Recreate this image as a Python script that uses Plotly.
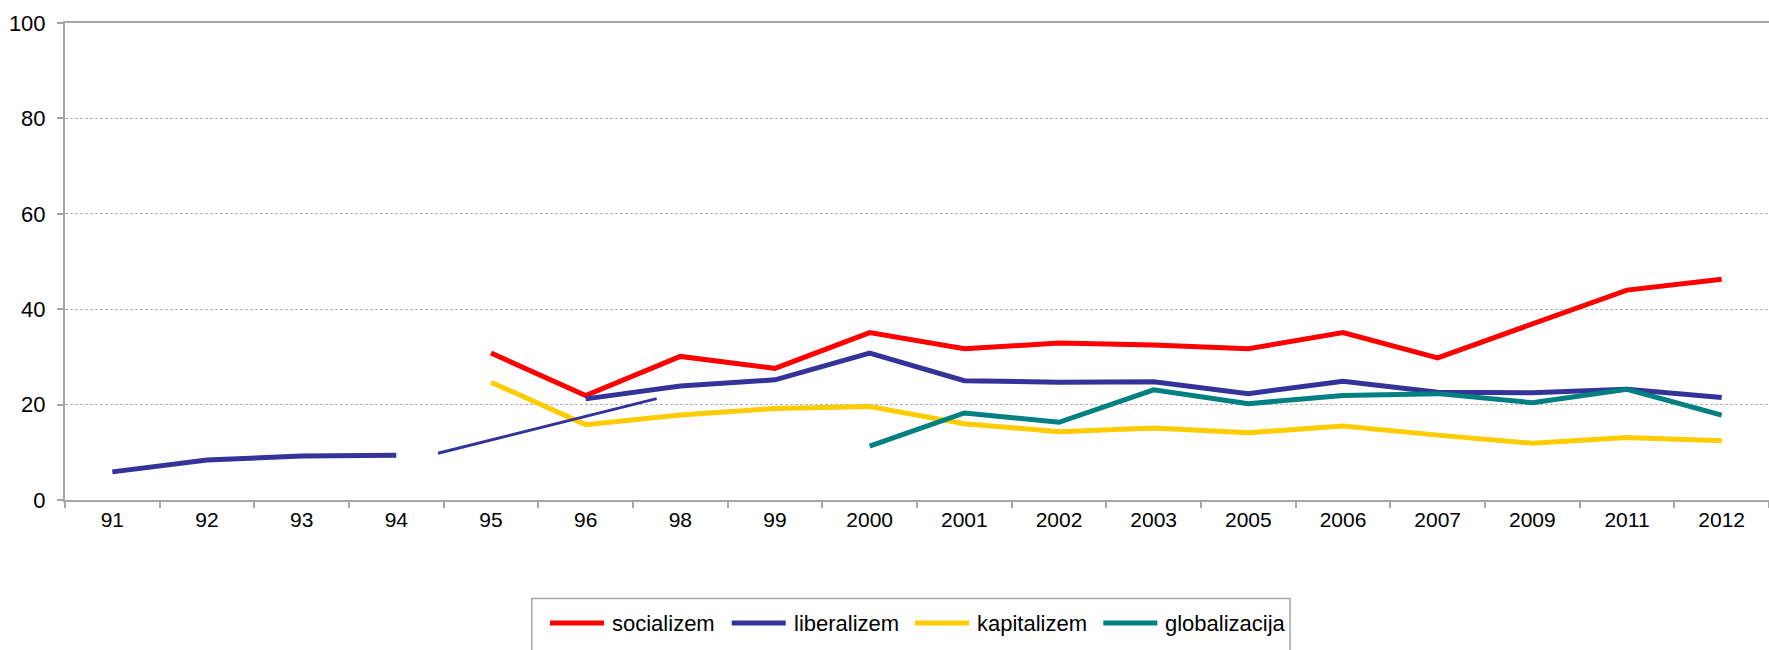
import plotly.graph_objects as go

# Survey years (category axis) and the share (%) for each term
years = ["91", "92", "93", "94", "95", "96", "98", "99", "2000", "2001",
         "2002", "2003", "2005", "2006", "2007", "2009", "2011", "2012"]

socializem = [None, None, None, None, 30.8, 21.9, 30.1, 27.6, 35.1, 31.7,
              32.9, 32.5, 31.7, 35.1, 29.8, 37.0, 44.0, 46.3]
liberalizem = [5.9, 8.4, 9.2, 9.4, None, 21.2, 23.9, 25.2, 30.8, 25.0,
               24.7, 24.8, 22.3, 24.9, 22.6, 22.5, 23.2, 21.5]
kapitalizem = [None, None, None, None, 24.7, 15.8, 17.8, 19.2, 19.6, 16.0,
               14.3, 15.1, 14.1, 15.5, 13.6, 11.9, 13.1, 12.4]
globalizacija = [None, None, None, None, None, None, None, None, 11.3, 18.25,
                 16.3, 23.1, 20.2, 21.9, 22.3, 20.4, 23.2, 17.8]

# Thin connector for liberalizem across the break in the series
bridge_pos = [3.44, 5.75]
bridge_values = [9.8, 21.25]

series = [
    ("socializem", socializem, "#FF0000"),
    ("liberalizem", liberalizem, "#333399"),
    ("kapitalizem", kapitalizem, "#FFCC00"),
    ("globalizacija", globalizacija, "#008080"),
]

FONT = "Liberation Sans, Arial, sans-serif"
W, H = 1769, 650
ML, MT, MB = 65, 23, 150
PLOT_W = W - ML
PLOT_H = H - MT - MB


def px_x(px):
    return (px - ML) / PLOT_W


def px_y(py):
    return (MT + PLOT_H - py) / PLOT_H


fig = go.Figure()

fig.add_trace(go.Scatter(
    x=bridge_pos, y=bridge_values, xaxis="x2", mode="lines",
    line=dict(color="#333399", width=3), showlegend=False, hoverinfo="skip",
))

for name, vals, color in series:
    fig.add_trace(go.Scatter(
        x=years, y=vals, name=name, mode="lines",
        line=dict(color=color, width=5), connectgaps=False, showlegend=False,
    ))

# Legend drawn as a framed row of line samples and labels
shapes = [dict(
    type="rect", xref="paper", yref="paper",
    x0=px_x(531.7), x1=px_x(1290), y0=px_y(660), y1=px_y(598.5),
    line=dict(color="#A6A6A6", width=1.5), fillcolor="white", layer="below",
)]
annotations = []
legend_starts = [550, 731.7, 915, 1103.3]
for (name, _, color), x0 in zip(series, legend_starts):
    shapes.append(dict(
        type="line", xref="paper", yref="paper",
        x0=px_x(x0), x1=px_x(x0 + 54), y0=px_y(623), y1=px_y(623),
        line=dict(color=color, width=5),
    ))
    annotations.append(dict(
        text=name, xref="paper", yref="paper", x=px_x(x0 + 60), y=px_y(623),
        xanchor="left", yanchor="middle", showarrow=False,
        font=dict(family=FONT, size=22, color="#000000"),
    ))

fig.update_layout(
    width=W, height=H,
    margin=dict(l=ML, r=0, t=MT, b=MB),
    paper_bgcolor="white", plot_bgcolor="white",
    font=dict(family=FONT, size=21, color="#000000"),
    showlegend=False,
    shapes=shapes,
    annotations=annotations,
    xaxis=dict(
        type="category", categoryorder="array", categoryarray=years,
        range=[-0.5, len(years) - 0.5],
        showline=True, linecolor="#A6A6A6", linewidth=2, mirror=True,
        ticks="outside", tickson="boundaries", ticklen=6, tickcolor="#A6A6A6",
        tickwidth=1.5, showgrid=False, zeroline=False,
        tickfont=dict(family=FONT, size=21, color="#000000"),
    ),
    xaxis2=dict(
        overlaying="x", range=[-0.5, len(years) - 0.5], visible=False,
    ),
    yaxis=dict(
        range=[0, 100], dtick=20, tick0=0,
        showline=True, linecolor="#A6A6A6", linewidth=2,
        ticks="outside", ticklen=6, tickcolor="#A6A6A6", tickwidth=1.5,
        ticklabelstandoff=7,
        showgrid=True, gridcolor="#B4B4B4", gridwidth=1, griddash="3px,2px",
        zeroline=False,
        tickfont=dict(family=FONT, size=22, color="#000000"),
    ),
)

fig.write_html("out.html")
